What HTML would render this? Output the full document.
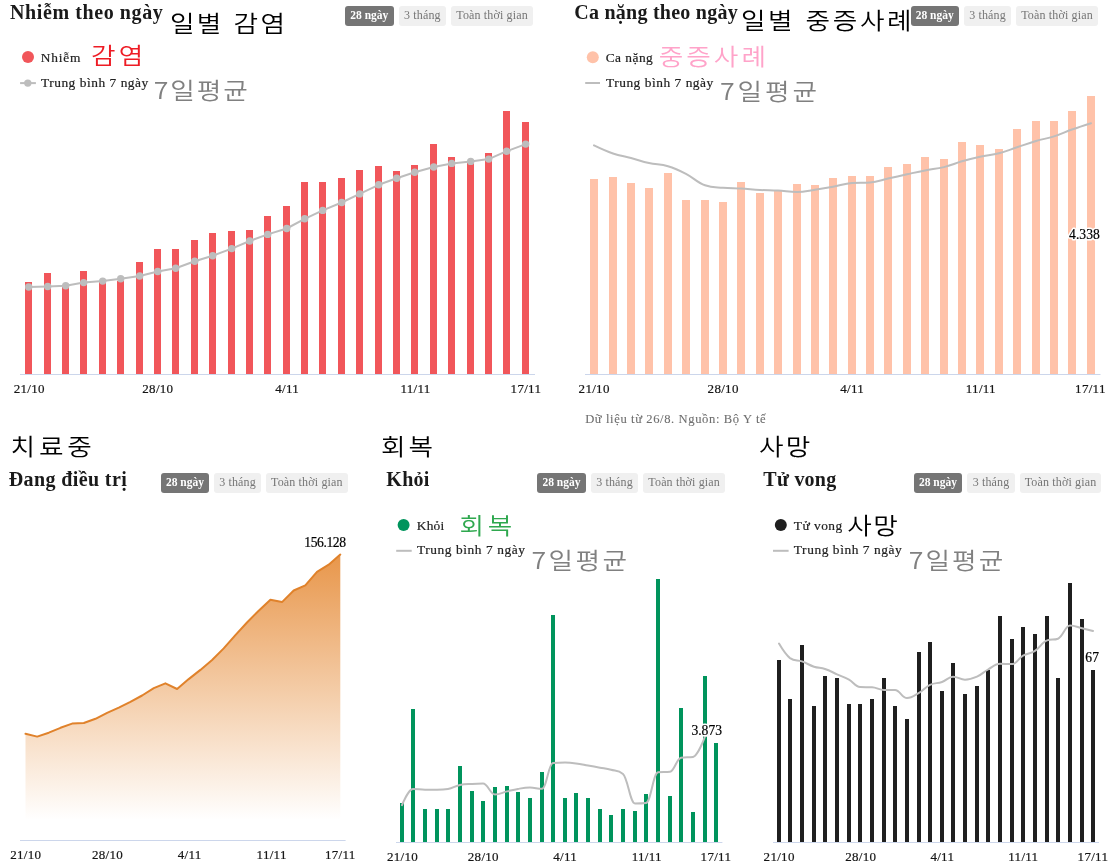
<!DOCTYPE html>
<html lang="vi"><head><meta charset="utf-8"><title>Covid-19</title>
<style>
html,body{margin:0;padding:0;background:#fff}
body{width:1113px;height:866px;position:relative;overflow:hidden;font-family:'Liberation Serif', serif}
#g{position:absolute;left:0;top:0}
.b{position:absolute;height:19.7px;border-radius:3px;background:#f0f0f0;color:#757575;font:12px/19.7px 'Liberation Serif', serif;text-align:center;white-space:nowrap;box-sizing:border-box}
.b{letter-spacing:.15px}
.b.on{background:#757575;color:#fff;font-weight:bold;font-size:11.5px;letter-spacing:0}
</style></head><body>
<svg id="g" width="1113" height="866" viewBox="0 0 1113 866">
<g fill="#f1565a"><rect x="25" y="282" width="7" height="92"/><rect x="44" y="273" width="7" height="101"/><rect x="62" y="286" width="7" height="88"/><rect x="80" y="271" width="7" height="103"/><rect x="99" y="282" width="7" height="92"/><rect x="117" y="281" width="7" height="93"/><rect x="136" y="262" width="7" height="112"/><rect x="154" y="249" width="7" height="125"/><rect x="172" y="249" width="7" height="125"/><rect x="191" y="240" width="7" height="134"/><rect x="209" y="233" width="7" height="141"/><rect x="228" y="231" width="7" height="143"/><rect x="246" y="230" width="7" height="144"/><rect x="264" y="216" width="7" height="158"/><rect x="283" y="206" width="7" height="168"/><rect x="301" y="182" width="7" height="192"/><rect x="319" y="182" width="7" height="192"/><rect x="338" y="178" width="7" height="196"/><rect x="356" y="170" width="7" height="204"/><rect x="375" y="166" width="7" height="208"/><rect x="393" y="171" width="7" height="203"/><rect x="411" y="165" width="7" height="209"/><rect x="430" y="144" width="7" height="230"/><rect x="448" y="157" width="7" height="217"/><rect x="467" y="162" width="7" height="212"/><rect x="485" y="153" width="7" height="221"/><rect x="503" y="111" width="7" height="263"/><rect x="522" y="122" width="7" height="252"/></g>
<polyline fill="none" stroke="#bdbdbd" stroke-width="2" stroke-linejoin="round" points="28.7,287.0 47.7,286.5 65.7,285.7 83.7,282.6 102.7,281.1 120.7,278.8 139.7,276.0 157.7,271.5 175.7,268.2 194.7,261.3 212.7,255.7 231.7,248.6 249.7,241.0 267.7,234.4 286.7,228.5 304.7,218.8 322.7,210.4 341.7,202.5 359.7,193.9 378.7,184.8 396.7,178.2 414.7,172.3 433.7,167.0 451.7,163.4 470.7,161.4 488.7,159.1 506.7,151.2 525.7,144.1"/>
<g fill="#bdbdbd"><circle cx="28.7" cy="287.0" r="3.7"/><circle cx="47.7" cy="286.5" r="3.7"/><circle cx="65.7" cy="285.7" r="3.7"/><circle cx="83.7" cy="282.6" r="3.7"/><circle cx="102.7" cy="281.1" r="3.7"/><circle cx="120.7" cy="278.8" r="3.7"/><circle cx="139.7" cy="276.0" r="3.7"/><circle cx="157.7" cy="271.5" r="3.7"/><circle cx="175.7" cy="268.2" r="3.7"/><circle cx="194.7" cy="261.3" r="3.7"/><circle cx="212.7" cy="255.7" r="3.7"/><circle cx="231.7" cy="248.6" r="3.7"/><circle cx="249.7" cy="241.0" r="3.7"/><circle cx="267.7" cy="234.4" r="3.7"/><circle cx="286.7" cy="228.5" r="3.7"/><circle cx="304.7" cy="218.8" r="3.7"/><circle cx="322.7" cy="210.4" r="3.7"/><circle cx="341.7" cy="202.5" r="3.7"/><circle cx="359.7" cy="193.9" r="3.7"/><circle cx="378.7" cy="184.8" r="3.7"/><circle cx="396.7" cy="178.2" r="3.7"/><circle cx="414.7" cy="172.3" r="3.7"/><circle cx="433.7" cy="167.0" r="3.7"/><circle cx="451.7" cy="163.4" r="3.7"/><circle cx="470.7" cy="161.4" r="3.7"/><circle cx="488.7" cy="159.1" r="3.7"/><circle cx="506.7" cy="151.2" r="3.7"/><circle cx="525.7" cy="144.1" r="3.7"/></g>
<rect x="20" y="374" width="515" height="1" fill="#ccd6eb"/>
<g fill="#ffc2a9"><rect x="590" y="179" width="8" height="195"/><rect x="609" y="177" width="8" height="197"/><rect x="627" y="183" width="8" height="191"/><rect x="645" y="188" width="8" height="186"/><rect x="664" y="173" width="8" height="201"/><rect x="682" y="200" width="8" height="174"/><rect x="701" y="200" width="8" height="174"/><rect x="719" y="202" width="8" height="172"/><rect x="737" y="182" width="8" height="192"/><rect x="756" y="193" width="8" height="181"/><rect x="774" y="191" width="8" height="183"/><rect x="793" y="184" width="8" height="190"/><rect x="811" y="185" width="8" height="189"/><rect x="829" y="178" width="8" height="196"/><rect x="848" y="176" width="8" height="198"/><rect x="866" y="176" width="8" height="198"/><rect x="884" y="167" width="8" height="207"/><rect x="903" y="164" width="8" height="210"/><rect x="921" y="157" width="8" height="217"/><rect x="940" y="159" width="8" height="215"/><rect x="958" y="142" width="8" height="232"/><rect x="976" y="145" width="8" height="229"/><rect x="995" y="149" width="8" height="225"/><rect x="1013" y="129" width="8" height="245"/><rect x="1032" y="121" width="8" height="253"/><rect x="1050" y="121" width="8" height="253"/><rect x="1068" y="111" width="8" height="263"/><rect x="1087" y="96" width="8" height="278"/></g>
<path fill="none" stroke="#bdbdbd" stroke-width="2" stroke-linecap="round" d="M594.00 145.40C594.00 145.40 605.40 150.91 613.00 153.50C620.20 155.95 623.80 156.10 631.00 158.00C638.20 159.90 641.80 161.40 649.00 163.00C656.60 164.68 660.40 163.98 668.00 166.20C675.20 168.30 678.80 170.08 686.00 173.80C693.60 177.72 697.40 182.80 705.00 185.30C712.20 187.80 715.80 187.14 723.00 187.80C730.20 188.46 733.80 188.17 741.00 188.60C748.60 189.05 752.40 189.59 760.00 190.00C767.20 190.39 770.80 190.19 778.00 190.60C785.60 191.03 789.40 192.10 797.00 192.10C804.20 192.10 807.80 190.86 815.00 189.80C822.20 188.74 825.80 188.14 833.00 186.80C840.60 185.38 844.40 183.40 852.00 182.90C859.20 182.40 862.80 182.90 870.00 182.40C877.20 181.90 880.80 180.18 888.00 178.60C895.60 176.94 899.40 175.98 907.00 174.30C914.20 172.70 917.80 171.80 925.00 170.40C932.60 168.92 936.40 168.97 944.00 167.10C951.20 165.33 954.80 163.38 962.00 161.30C969.20 159.22 972.80 158.28 980.00 156.70C987.60 155.04 991.40 155.13 999.00 153.20C1006.20 151.37 1009.80 149.67 1017.00 147.30C1024.60 144.79 1028.40 143.24 1036.00 141.00C1043.20 138.88 1046.80 138.70 1054.00 136.40C1061.20 134.10 1064.80 132.07 1072.00 129.50C1079.60 126.79 1091.00 123.20 1091.00 123.20"/>
<rect x="585" y="374" width="515.5" height="1" fill="#ccd6eb"/>
<defs><linearGradient id="ga" gradientUnits="userSpaceOnUse" x1="0" y1="554" x2="0" y2="820"><stop offset="0" stop-color="#e8964a"/><stop offset="1" stop-color="#e8964a" stop-opacity="0"/></linearGradient></defs>
<polygon fill="url(#ga)" points="25.5,733.8 37.2,736.6 48.8,732.7 60.5,727.8 72.1,723.6 83.8,723.0 95.5,718.8 107.1,712.8 118.8,707.6 130.4,701.9 142.1,695.5 153.8,688.2 165.4,683.3 177.1,689.0 188.7,679.1 200.4,669.9 212.1,660.0 223.7,648.4 235.4,635.1 247.0,622.5 258.7,610.7 270.4,599.8 282.0,602.1 293.7,590.5 305.3,585.3 317.0,571.9 328.7,564.7 340.3,554.6 340.3,840 25.5,840"/>
<polyline fill="none" stroke="#e0822b" stroke-width="2" stroke-linejoin="round" stroke-linecap="round" points="25.5,733.8 37.2,736.6 48.8,732.7 60.5,727.8 72.1,723.6 83.8,723.0 95.5,718.8 107.1,712.8 118.8,707.6 130.4,701.9 142.1,695.5 153.8,688.2 165.4,683.3 177.1,689.0 188.7,679.1 200.4,669.9 212.1,660.0 223.7,648.4 235.4,635.1 247.0,622.5 258.7,610.7 270.4,599.8 282.0,602.1 293.7,590.5 305.3,585.3 317.0,571.9 328.7,564.7 340.3,554.6"/>
<rect x="20" y="840" width="325.6" height="1" fill="#ccd6eb"/>
<g fill="#00945c"><rect x="400" y="803" width="4" height="39"/><rect x="411" y="709" width="4" height="133"/><rect x="423" y="809" width="4" height="33"/><rect x="435" y="809" width="4" height="33"/><rect x="446" y="809" width="4" height="33"/><rect x="458" y="766" width="4" height="76"/><rect x="470" y="791" width="4" height="51"/><rect x="481" y="801" width="4" height="41"/><rect x="493" y="787" width="4" height="55"/><rect x="505" y="786" width="4" height="56"/><rect x="516" y="792" width="4" height="50"/><rect x="528" y="798" width="4" height="44"/><rect x="540" y="772" width="4" height="70"/><rect x="551" y="615" width="4" height="227"/><rect x="563" y="798" width="4" height="44"/><rect x="574" y="793" width="4" height="49"/><rect x="586" y="798" width="4" height="44"/><rect x="598" y="809" width="4" height="33"/><rect x="609" y="815" width="4" height="27"/><rect x="621" y="809" width="4" height="33"/><rect x="633" y="811" width="4" height="31"/><rect x="644" y="794" width="4" height="48"/><rect x="656" y="579" width="4" height="263"/><rect x="668" y="796" width="4" height="46"/><rect x="679" y="708" width="4" height="134"/><rect x="691" y="812" width="4" height="30"/><rect x="703" y="676" width="4" height="166"/><rect x="714" y="743" width="4" height="99"/></g>
<path fill="none" stroke="#bdbdbd" stroke-width="2" stroke-linecap="round" stroke-linejoin="round" d="M402.00 805.10C402.00 805.10 408.60 788.90 413.00 788.90C417.80 788.90 420.20 789.70 425.00 789.70C429.80 789.70 432.20 789.70 437.00 789.70C441.40 789.70 443.60 789.70 448.00 789.00C452.80 788.30 455.20 785.90 460.00 784.90C464.80 783.90 467.20 784.17 472.00 783.90C476.40 783.65 478.60 783.60 483.00 783.60C487.80 783.60 490.20 794.40 495.00 794.40C499.80 794.40 502.20 792.55 507.00 791.40C511.40 790.35 513.60 789.63 518.00 788.90C522.80 788.11 525.20 787.60 530.00 787.60C534.80 787.60 537.20 788.80 542.00 788.80C546.40 788.80 548.60 763.20 553.00 762.90C557.80 762.60 560.20 762.60 565.00 762.60C569.40 762.60 571.60 762.85 576.00 763.40C580.80 764.01 583.20 764.64 588.00 765.50C592.80 766.36 595.20 766.80 600.00 767.70C604.40 768.52 606.60 768.61 611.00 769.80C615.80 771.09 618.20 769.80 623.00 773.90C627.80 778.00 630.20 803.50 635.00 803.50C639.40 803.50 641.60 803.50 646.00 803.00C650.80 802.50 653.20 772.80 658.00 772.30C662.80 771.80 665.20 772.30 670.00 771.80C674.40 771.30 676.60 758.50 681.00 757.70C685.80 756.90 688.20 757.70 693.00 756.90C697.80 756.10 705.00 736.50 705.00 736.50L709.4 733.4"/>
<rect x="396" y="842" width="326.4" height="1" fill="#ccd6eb"/>
<g fill="#1f1f1f"><rect x="777" y="660" width="4" height="182"/><rect x="788" y="699" width="4" height="143"/><rect x="800" y="645" width="4" height="197"/><rect x="812" y="706" width="4" height="136"/><rect x="823" y="676" width="4" height="166"/><rect x="835" y="678" width="4" height="164"/><rect x="847" y="704" width="4" height="138"/><rect x="858" y="704" width="4" height="138"/><rect x="870" y="699" width="4" height="143"/><rect x="882" y="678" width="4" height="164"/><rect x="893" y="706" width="4" height="136"/><rect x="905" y="719" width="4" height="123"/><rect x="917" y="652" width="4" height="190"/><rect x="928" y="642" width="4" height="200"/><rect x="940" y="691" width="4" height="151"/><rect x="951" y="663" width="4" height="179"/><rect x="963" y="694" width="4" height="148"/><rect x="975" y="686" width="4" height="156"/><rect x="986" y="670" width="4" height="172"/><rect x="998" y="616" width="4" height="226"/><rect x="1010" y="639" width="4" height="203"/><rect x="1021" y="627" width="4" height="215"/><rect x="1033" y="634" width="4" height="208"/><rect x="1045" y="616" width="4" height="226"/><rect x="1056" y="678" width="4" height="164"/><rect x="1068" y="583" width="4" height="259"/><rect x="1080" y="619" width="4" height="223"/><rect x="1091" y="670" width="4" height="172"/></g>
<path fill="none" stroke="#bdbdbd" stroke-width="2" stroke-linecap="round" d="M779.00 643.60C779.00 643.60 785.60 654.80 790.00 658.10C794.80 661.40 797.20 659.68 802.00 661.40C806.80 663.12 809.20 665.11 814.00 666.70C818.40 668.15 820.60 667.55 825.00 669.00C829.80 670.59 832.20 672.16 837.00 674.30C841.80 676.44 844.20 677.03 849.00 679.70C853.40 682.15 855.60 686.90 860.00 687.10C864.80 687.30 867.20 687.10 872.00 687.30C876.80 687.50 879.20 690.00 884.00 690.00C888.40 690.00 890.60 690.00 895.00 690.00C899.80 690.00 902.20 698.10 907.00 698.10C911.80 698.10 914.20 695.68 919.00 692.90C923.40 690.36 925.60 686.89 930.00 684.80C934.80 682.53 937.20 683.69 942.00 682.00C946.40 680.45 948.60 676.70 953.00 676.70C957.80 676.70 960.20 679.70 965.00 679.70C969.80 679.70 972.20 678.83 977.00 676.70C981.40 674.75 983.60 671.97 988.00 669.50C992.80 666.81 995.20 663.80 1000.00 663.80C1004.80 663.80 1007.20 664.10 1012.00 664.10C1016.40 664.10 1018.60 658.23 1023.00 655.70C1027.80 652.95 1030.20 653.96 1035.00 650.90C1039.80 647.84 1042.20 642.10 1047.00 640.40C1051.40 638.70 1053.60 640.40 1058.00 638.70C1062.80 637.00 1065.20 625.50 1070.00 625.50C1074.80 625.50 1077.20 627.05 1082.00 628.20C1086.40 629.25 1093.00 631.00 1093.00 631.00"/>
<rect x="773" y="842" width="326" height="1" fill="#ccd6eb"/>
<circle cx="28" cy="57" r="6" fill="#f1565a"/>
<rect x="20.1" y="82.1" width="15.8" height="2" fill="#bdbdbd"/><circle cx="27.8" cy="83.1" r="3.7" fill="#bdbdbd"/>
<circle cx="592.8" cy="57.3" r="6" fill="#ffc2a9"/>
<rect x="585.2" y="82" width="14.8" height="2" fill="#bdbdbd"/>
<circle cx="403.6" cy="524.9" r="6" fill="#00945c"/>
<rect x="396.2" y="549.8" width="15.5" height="2" fill="#bdbdbd"/>
<circle cx="780.8" cy="524.9" r="6" fill="#1f1f1f"/>
<rect x="773" y="549.8" width="15.6" height="2" fill="#bdbdbd"/>
<text x="10.05" y="19.20" font-family="'Liberation Serif', serif" font-size="20" fill="#1a1a1a" font-weight="bold" letter-spacing="0.59">Nhiễm theo ngày</text>
<text x="574.20" y="19.20" font-family="'Liberation Serif', serif" font-size="20" fill="#1a1a1a" font-weight="bold" letter-spacing="0.25">Ca nặng theo ngày</text>
<text x="8.80" y="485.50" font-family="'Liberation Serif', serif" font-size="20" fill="#1a1a1a" font-weight="bold" letter-spacing="0.38">Đang điều trị</text>
<text x="386.35" y="485.50" font-family="'Liberation Serif', serif" font-size="20" fill="#1a1a1a" font-weight="bold" letter-spacing="0.28">Khỏi</text>
<text x="763.35" y="485.50" font-family="'Liberation Serif', serif" font-size="20" fill="#1a1a1a" font-weight="bold" letter-spacing="0.23">Tử vong</text>
<text transform="translate(170.00 32.20) scale(1.15 1)" font-family="'Noto Sans CJK KR', sans-serif" font-size="23.2" fill="#000" font-weight="350" letter-spacing="1.98" word-spacing="1.5">일별 감염</text>
<text transform="translate(740.90 28.95) scale(1.15 1)" font-family="'Noto Sans CJK KR', sans-serif" font-size="23.2" fill="#000" font-weight="350" letter-spacing="2.29" word-spacing="1.5">일별 중증사례</text>
<text transform="translate(10.60 455.15) scale(1.15 1)" font-family="'Noto Sans CJK KR', sans-serif" font-size="23.2" fill="#000" font-weight="350" letter-spacing="3.28">치료중</text>
<text transform="translate(381.10 455.15) scale(1.15 1)" font-family="'Noto Sans CJK KR', sans-serif" font-size="23.2" fill="#000" font-weight="350" letter-spacing="2.57">회복</text>
<text transform="translate(759.05 455.15) scale(1.15 1)" font-family="'Noto Sans CJK KR', sans-serif" font-size="23.2" fill="#000" font-weight="350" letter-spacing="1.91">사망</text>
<text transform="translate(91.00 64.20) scale(1.15 1)" font-family="'Noto Sans CJK KR', sans-serif" font-size="23.2" fill="#ee1c25" font-weight="350" letter-spacing="2.83">감염</text>
<text transform="translate(153.75 99.25) scale(1.15 1)" font-family="'Noto Sans CJK KR', sans-serif" font-size="23.2" fill="#808080" font-weight="350" letter-spacing="1.70">7일평균</text>
<text transform="translate(658.65 64.75) scale(1.15 1)" font-family="'Noto Sans CJK KR', sans-serif" font-size="23.2" fill="#ffa3c9" font-weight="350" letter-spacing="2.64">중증사례</text>
<text transform="translate(720.05 99.95) scale(1.15 1)" font-family="'Noto Sans CJK KR', sans-serif" font-size="23.2" fill="#808080" font-weight="350" letter-spacing="2.51">7일평균</text>
<text transform="translate(459.40 533.55) scale(1.15 1)" font-family="'Noto Sans CJK KR', sans-serif" font-size="23.2" fill="#2fa84f" font-weight="350" letter-spacing="3.35">회복</text>
<text transform="translate(531.45 569.15) scale(1.15 1)" font-family="'Noto Sans CJK KR', sans-serif" font-size="23.2" fill="#808080" font-weight="350" letter-spacing="2.13">7일평균</text>
<text transform="translate(847.15 533.55) scale(1.15 1)" font-family="'Noto Sans CJK KR', sans-serif" font-size="23.2" fill="#000" font-weight="350" letter-spacing="1.30">사망</text>
<text transform="translate(908.65 569.15) scale(1.15 1)" font-family="'Noto Sans CJK KR', sans-serif" font-size="23.2" fill="#808080" font-weight="350" letter-spacing="1.84">7일평균</text>
<text x="40.70" y="62.00" font-family="'Liberation Serif', serif" font-size="13.4" fill="#222" letter-spacing="0.84" stroke="#222" stroke-width="0.2">Nhiễm</text>
<text x="40.95" y="86.80" font-family="'Liberation Serif', serif" font-size="13.4" fill="#222" letter-spacing="0.53" stroke="#222" stroke-width="0.2">Trung bình 7 ngày</text>
<text x="605.70" y="62.00" font-family="'Liberation Serif', serif" font-size="13.4" fill="#222" letter-spacing="0.48" stroke="#222" stroke-width="0.2">Ca nặng</text>
<text x="605.95" y="86.80" font-family="'Liberation Serif', serif" font-size="13.4" fill="#222" letter-spacing="0.53" stroke="#222" stroke-width="0.2">Trung bình 7 ngày</text>
<text x="416.70" y="529.80" font-family="'Liberation Serif', serif" font-size="13.4" fill="#222" letter-spacing="0.27" stroke="#222" stroke-width="0.2">Khỏi</text>
<text x="416.95" y="554.30" font-family="'Liberation Serif', serif" font-size="13.4" fill="#222" letter-spacing="0.57" stroke="#222" stroke-width="0.2">Trung bình 7 ngày</text>
<text x="793.85" y="529.80" font-family="'Liberation Serif', serif" font-size="13.4" fill="#222" letter-spacing="0.47" stroke="#222" stroke-width="0.2">Tử vong</text>
<text x="793.85" y="554.30" font-family="'Liberation Serif', serif" font-size="13.4" fill="#222" letter-spacing="0.57" stroke="#222" stroke-width="0.2">Trung bình 7 ngày</text>
<text x="585.15" y="423.20" font-family="'Liberation Serif', serif" font-size="12.6" fill="#6e6e6e" letter-spacing="0.60" stroke="#6e6e6e" stroke-width="0.1">Dữ liệu từ 26/8. Nguồn: Bộ Y tế</text>
<text x="13.73" y="393.20" font-family="'Liberation Serif', serif" font-size="13" fill="#151515" letter-spacing="0.30" stroke="#151515" stroke-width="0.2">21/10</text>
<text x="142.32" y="393.20" font-family="'Liberation Serif', serif" font-size="13" fill="#151515" letter-spacing="0.30" stroke="#151515" stroke-width="0.2">28/10</text>
<text x="275.20" y="393.20" font-family="'Liberation Serif', serif" font-size="13" fill="#151515" letter-spacing="0.30" stroke="#151515" stroke-width="0.2">4/11</text>
<text x="400.38" y="393.20" font-family="'Liberation Serif', serif" font-size="13" fill="#151515" letter-spacing="0.30" stroke="#151515" stroke-width="0.2">11/11</text>
<text x="510.62" y="393.20" font-family="'Liberation Serif', serif" font-size="13" fill="#151515" letter-spacing="0.30" stroke="#151515" stroke-width="0.2">17/11</text>
<text x="578.62" y="393.20" font-family="'Liberation Serif', serif" font-size="13" fill="#151515" letter-spacing="0.30" stroke="#151515" stroke-width="0.2">21/10</text>
<text x="707.62" y="393.20" font-family="'Liberation Serif', serif" font-size="13" fill="#151515" letter-spacing="0.30" stroke="#151515" stroke-width="0.2">28/10</text>
<text x="840.20" y="393.20" font-family="'Liberation Serif', serif" font-size="13" fill="#151515" letter-spacing="0.30" stroke="#151515" stroke-width="0.2">4/11</text>
<text x="965.77" y="393.20" font-family="'Liberation Serif', serif" font-size="13" fill="#151515" letter-spacing="0.30" stroke="#151515" stroke-width="0.2">11/11</text>
<text x="1075.12" y="393.20" font-family="'Liberation Serif', serif" font-size="13" fill="#151515" letter-spacing="0.30" stroke="#151515" stroke-width="0.2">17/11</text>
<text x="10.23" y="858.70" font-family="'Liberation Serif', serif" font-size="13" fill="#151515" letter-spacing="0.30" stroke="#151515" stroke-width="0.2">21/10</text>
<text x="92.03" y="858.70" font-family="'Liberation Serif', serif" font-size="13" fill="#151515" letter-spacing="0.30" stroke="#151515" stroke-width="0.2">28/10</text>
<text x="177.70" y="858.70" font-family="'Liberation Serif', serif" font-size="13" fill="#151515" letter-spacing="0.30" stroke="#151515" stroke-width="0.2">4/11</text>
<text x="256.57" y="858.70" font-family="'Liberation Serif', serif" font-size="13" fill="#151515" letter-spacing="0.30" stroke="#151515" stroke-width="0.2">11/11</text>
<text x="325.02" y="858.70" font-family="'Liberation Serif', serif" font-size="13" fill="#151515" letter-spacing="0.30" stroke="#151515" stroke-width="0.2">17/11</text>
<text x="386.93" y="860.70" font-family="'Liberation Serif', serif" font-size="13" fill="#151515" letter-spacing="0.30" stroke="#151515" stroke-width="0.2">21/10</text>
<text x="467.82" y="860.70" font-family="'Liberation Serif', serif" font-size="13" fill="#151515" letter-spacing="0.30" stroke="#151515" stroke-width="0.2">28/10</text>
<text x="553.30" y="860.70" font-family="'Liberation Serif', serif" font-size="13" fill="#151515" letter-spacing="0.30" stroke="#151515" stroke-width="0.2">4/11</text>
<text x="631.67" y="860.70" font-family="'Liberation Serif', serif" font-size="13" fill="#151515" letter-spacing="0.30" stroke="#151515" stroke-width="0.2">11/11</text>
<text x="700.62" y="860.70" font-family="'Liberation Serif', serif" font-size="13" fill="#151515" letter-spacing="0.30" stroke="#151515" stroke-width="0.2">17/11</text>
<text x="763.62" y="860.70" font-family="'Liberation Serif', serif" font-size="13" fill="#151515" letter-spacing="0.30" stroke="#151515" stroke-width="0.2">21/10</text>
<text x="845.23" y="860.70" font-family="'Liberation Serif', serif" font-size="13" fill="#151515" letter-spacing="0.30" stroke="#151515" stroke-width="0.2">28/10</text>
<text x="930.40" y="860.70" font-family="'Liberation Serif', serif" font-size="13" fill="#151515" letter-spacing="0.30" stroke="#151515" stroke-width="0.2">4/11</text>
<text x="1008.27" y="860.70" font-family="'Liberation Serif', serif" font-size="13" fill="#151515" letter-spacing="0.30" stroke="#151515" stroke-width="0.2">11/11</text>
<text x="1077.62" y="860.70" font-family="'Liberation Serif', serif" font-size="13" fill="#151515" letter-spacing="0.30" stroke="#151515" stroke-width="0.2">17/11</text>
<text x="1069.05" y="238.80" font-family="'Liberation Serif', serif" font-size="13.6" letter-spacing="0.06" fill="#fff" stroke="#fff" stroke-width="3.2" stroke-linejoin="round" aria-hidden="true">4.338</text>
<text x="1069.05" y="238.80" font-family="'Liberation Serif', serif" font-size="13.6" fill="#000" letter-spacing="0.06" stroke="#000" stroke-width="0.2">4.338</text>
<text x="304.35" y="547.20" font-family="'Liberation Serif', serif" font-size="13.6" letter-spacing="-0.42" fill="#fff" stroke="#fff" stroke-width="3.2" stroke-linejoin="round" aria-hidden="true">156.128</text>
<text x="304.35" y="547.20" font-family="'Liberation Serif', serif" font-size="13.6" fill="#000" letter-spacing="-0.42" stroke="#000" stroke-width="0.2">156.128</text>
<text x="691.45" y="734.90" font-family="'Liberation Serif', serif" font-size="13.6" letter-spacing="-0.01" fill="#fff" stroke="#fff" stroke-width="3.2" stroke-linejoin="round" aria-hidden="true">3.873</text>
<text x="691.45" y="734.90" font-family="'Liberation Serif', serif" font-size="13.6" fill="#000" letter-spacing="-0.01" stroke="#000" stroke-width="0.2">3.873</text>
<text x="1085.30" y="661.90" font-family="'Liberation Serif', serif" font-size="13.6" letter-spacing="0.25" fill="#fff" stroke="#fff" stroke-width="3.2" stroke-linejoin="round" aria-hidden="true">67</text>
<text x="1085.30" y="661.90" font-family="'Liberation Serif', serif" font-size="13.6" fill="#000" letter-spacing="0.25" stroke="#000" stroke-width="0.2">67</text>
</svg>
<span class="b on" style="left:345.1px;top:6.0px;width:48.5px">28 ngày</span>
<span class="b" style="left:399.0px;top:6.0px;width:46.7px">3 tháng</span>
<span class="b" style="left:451.1px;top:6.0px;width:81.9px">Toàn thời gian</span>
<span class="b on" style="left:910.6px;top:6.0px;width:48.2px">28 ngày</span>
<span class="b" style="left:964.0px;top:6.0px;width:47.0px">3 tháng</span>
<span class="b" style="left:1016.0px;top:6.0px;width:82.0px">Toàn thời gian</span>
<span class="b on" style="left:161.2px;top:473.2px;width:47.6px">28 ngày</span>
<span class="b" style="left:214.1px;top:473.2px;width:46.9px">3 tháng</span>
<span class="b" style="left:266.0px;top:473.2px;width:81.7px">Toàn thời gian</span>
<span class="b on" style="left:536.9px;top:473.2px;width:49.2px">28 ngày</span>
<span class="b" style="left:591.0px;top:473.2px;width:47.0px">3 tháng</span>
<span class="b" style="left:643.3px;top:473.2px;width:81.7px">Toàn thời gian</span>
<span class="b on" style="left:914.2px;top:473.2px;width:47.5px">28 ngày</span>
<span class="b" style="left:967.0px;top:473.2px;width:48.0px">3 tháng</span>
<span class="b" style="left:1020.0px;top:473.2px;width:81.0px">Toàn thời gian</span>
</body></html>
